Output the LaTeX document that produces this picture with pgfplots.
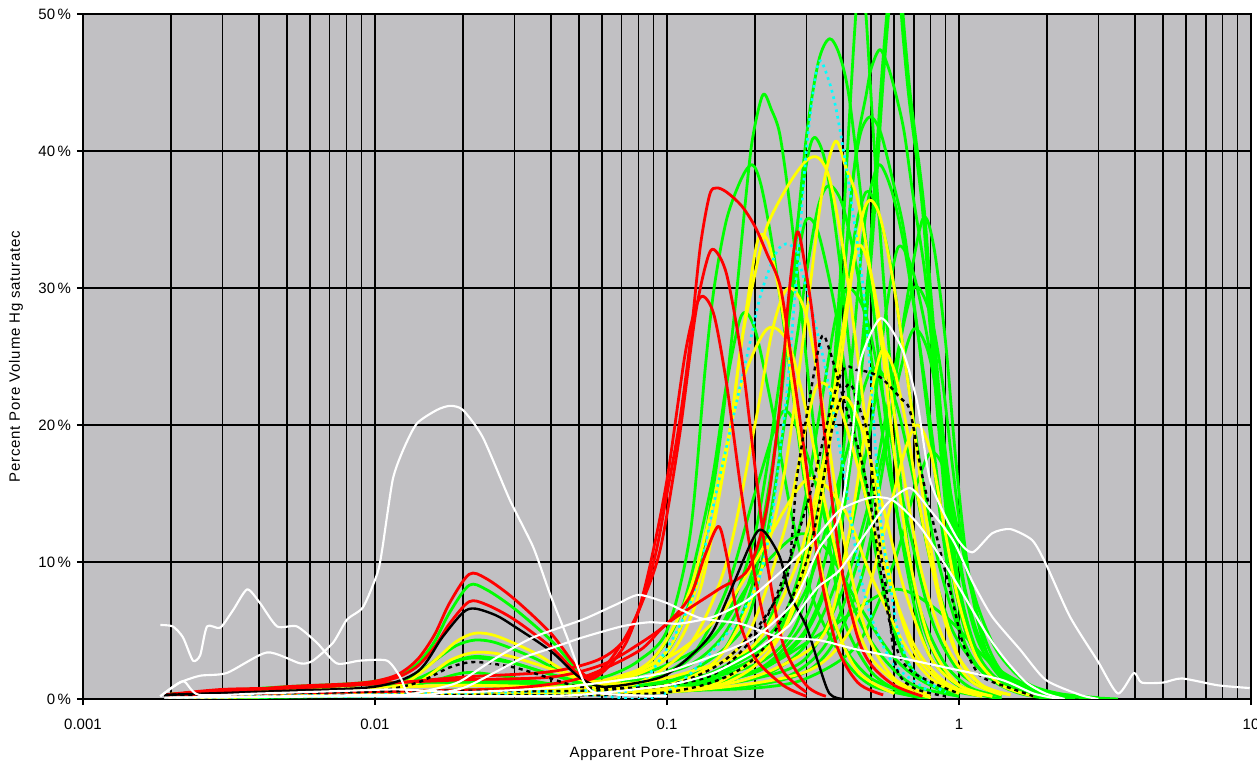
\documentclass[border=0pt]{standalone}
\usepackage{fontspec}
\setmainfont{Liberation Sans}
\usepackage{pgfplots}
\pgfplotsset{compat=1.18}
\usetikzlibrary{calc}
\definecolor{xgreen}{RGB}{0,255,0}
\definecolor{xyellow}{RGB}{255,255,0}
\definecolor{xred}{RGB}{255,0,0}
\definecolor{xcyan}{RGB}{0,255,255}
\definecolor{plotbg}{RGB}{193,192,195}
\pgfplotsset{
  gr/.style={draw=xgreen, line width=2.1pt},
  ye/.style={draw=xyellow, line width=2.1pt},
  rd/.style={draw=xred, line width=2.1pt},
  cy/.style={draw=xcyan, line width=2pt, dash pattern=on 2pt off 3pt},
  bk/.style={draw=black, line width=1.8pt},
  bkd/.style={draw=black, line width=1.8pt, dash pattern=on 3pt off 3pt},
  wh/.style={draw=white, line width=1.6pt, tension=0.4},
}
\begin{document}
\begin{tikzpicture}[font=\fontsize{11.25}{13}\selectfont]
\begin{axis}[
  name=ax,
  scale only axis,
  width=876pt, height=513.75pt,
  xmode=log,
  xmin=0.001, xmax=10,
  ymin=0, ymax=50,
  axis background/.style={fill=plotbg},
  xtick={0.001,0.01,0.1,1,10},
  xticklabels={0.001,0.01,0.1,1,10},
  ytick={0,10,20,30,40,50},
  yticklabels={0\,\%,10\,\%,20\,\%,30\,\%,40\,\%,50\,\%},
  xticklabel style={yshift=-7pt},
  yticklabel style={xshift=-1pt},
  grid=both,
  major grid style={black, line width=1.1pt},
  minor grid style={black, line width=1.1pt},
  axis line style={black, line width=1.1pt},
  tick align=outside,
  xtick pos=bottom, ytick pos=left,
  major tick length=4.5pt, minor tick length=0pt,
  tick style={black, line width=1pt},
  xlabel={\addfontfeatures{LetterSpace=5}Apparent Pore-Throat Size},
  ylabel={\addfontfeatures{LetterSpace=5}Percent Pore Volume Hg saturatec},
  xlabel style={at={(axis description cs:0.5,0)}, anchor=center, yshift=-41.25pt},
  ylabel style={at={(axis description cs:0,0.5)}, anchor=center, yshift=50.25pt},
  every axis plot/.append style={smooth, tension=0.5, no markers, line join=round},
]
% ---------------- green ----------------
\addplot[gr] coordinates {(0.0019,0.2)(0.004,0.4)(0.008,0.5)(0.015,0.6)(0.03,0.8)(0.06,1.2)(0.09,2.5)(0.11,5)(0.13,10)(0.15,18)(0.17,28)(0.185,36)(0.196,40.8)(0.213,44.1)(0.228,43)(0.243,41.3)(0.26,37)(0.28,31)(0.31,22)(0.35,13)(0.4,6)(0.5,2)(0.65,0.4)(0.8,0)};
\addplot[gr] coordinates {(0.0019,0.2)(0.005,0.5)(0.01,0.8)(0.014,1.5)(0.018,2.6)(0.022,3)(0.03,2.6)(0.04,1.8)(0.055,1.2)(0.08,1.5)(0.12,2.5)(0.16,5)(0.2,10)(0.24,20)(0.27,31)(0.3,41)(0.33,46.5)(0.36,48.2)(0.39,47)(0.42,44)(0.46,37)(0.5,30)(0.55,22)(0.6,15)(0.7,7)(0.8,3)(1,1)(1.3,0.2)};
\addplot[gr] coordinates {(0.0019,0.1)(0.005,0.2)(0.01,0.3)(0.02,0.4)(0.05,0.6)(0.1,1)(0.15,2)(0.25,6)(0.33,15)(0.38,25)(0.42,35)(0.45,40.8)(0.48,44)(0.5,46)(0.536,47.4)(0.575,46)(0.615,43.7)(0.65,41.3)(0.7,36.4)(0.76,31.5)(0.8,26.7)(0.85,20)(0.92,12)(1,7)(1.1,4)(1.3,1.8)(1.6,0.5)(2.2,0.1)};
\addplot[gr] coordinates {(0.0019,0.3)(0.003,0.6)(0.005,0.8)(0.008,1)(0.012,1.2)(0.02,1.5)(0.05,1)(0.1,1)(0.2,2.5)(0.27,5)(0.32,10)(0.36,20)(0.39,30)(0.415,40)(0.44,49)(0.46,54)(0.48,50)(0.51,41)(0.55,31)(0.6,21)(0.66,12)(0.75,5.5)(0.9,1.8)(1.1,0.5)(1.4,0)};
\addplot[gr, line width=3.4pt] coordinates {(0.0019,0.1)(0.005,0.2)(0.01,0.3)(0.02,0.4)(0.05,0.5)(0.1,1)(0.2,2)(0.3,5)(0.38,11)(0.45,22)(0.5,33)(0.55,46)(0.59,53)(0.62,53)(0.65,48)(0.68,43.7)(0.75,36.4)(0.8,29)(0.86,21)(0.92,14)(1,8)(1.12,4)(1.3,1.5)(1.6,0.5)(2,0.1)};
\addplot[gr] coordinates {(0.0019,0.2)(0.004,0.4)(0.008,0.5)(0.015,0.6)(0.03,0.7)(0.08,1)(0.15,2)(0.25,5)(0.3,10)(0.35,19)(0.4,30)(0.43,37.4)(0.46,41.3)(0.497,42.5)(0.54,41.3)(0.6,37.4)(0.65,34)(0.72,27)(0.8,19)(0.88,12)(0.96,7)(1.1,3)(1.4,1)(2,0.2)};
\addplot[gr] coordinates {(0.0019,0.3)(0.003,0.6)(0.005,0.9)(0.008,1.1)(0.01,1.3)(0.012,1.7)(0.014,2.6)(0.016,4.2)(0.018,6.3)(0.021,8.3)(0.024,8)(0.03,6.6)(0.04,4.3)(0.048,2.4)(0.055,1.5)(0.065,1.8)(0.08,2.8)(0.1,5)(0.12,12)(0.135,24)(0.145,30)(0.16,35)(0.18,38)(0.196,39)(0.21,37.5)(0.23,33)(0.26,25)(0.3,15)(0.35,8)(0.4,4)(0.5,1.5)(0.7,0.3)};
\addplot[gr] coordinates {(0.0019,0.3)(0.003,0.6)(0.005,0.8)(0.008,1)(0.012,1.2)(0.02,1.3)(0.05,1)(0.1,1.2)(0.18,5)(0.22,12)(0.26,22)(0.3,31)(0.33,36)(0.36,37.5)(0.4,36)(0.45,31)(0.5,25)(0.56,18)(0.65,11)(0.75,6)(0.9,2.5)(1.1,0.8)(1.4,0.2)};
\addplot[gr] coordinates {(0.0019,0.1)(0.005,0.2)(0.01,0.3)(0.02,0.4)(0.05,0.5)(0.1,0.8)(0.2,2)(0.3,6)(0.38,14)(0.43,25)(0.47,34)(0.5,37.4)(0.536,39)(0.59,37)(0.65,33)(0.72,27)(0.8,20)(0.88,13)(0.95,9)(1.05,5)(1.2,2.5)(1.5,0.8)(2,0.2)};
\addplot[gr] coordinates {(0.0019,0.2)(0.004,0.4)(0.008,0.5)(0.015,0.6)(0.05,0.7)(0.1,1)(0.2,3)(0.28,8)(0.35,18)(0.4,27)(0.44,34)(0.48,37)(0.52,36)(0.58,32)(0.65,25)(0.75,16)(0.85,10)(1,5)(1.2,2)(1.6,0.5)(2.5,0.1)};
\addplot[gr] coordinates {(0.0019,0.2)(0.005,0.5)(0.01,0.8)(0.013,1.4)(0.016,2.8)(0.019,3.9)(0.022,4.3)(0.026,4.1)(0.035,3)(0.045,1.8)(0.055,1.2)(0.07,1.5)(0.1,2.5)(0.15,5)(0.2,12)(0.25,25)(0.28,32)(0.3,35)(0.33,34)(0.38,28)(0.45,18)(0.55,8)(0.65,3)(0.8,1)(1,0.2)};
\addplot[gr] coordinates {(0.0019,0.2)(0.004,0.4)(0.008,0.5)(0.015,0.6)(0.05,0.6)(0.1,0.8)(0.2,1.5)(0.3,4)(0.4,10)(0.5,20)(0.56,28)(0.62,33)(0.7,31)(0.8,25)(0.9,17)(1,10)(1.15,4.5)(1.4,1.5)(1.8,0.4)(2.5,0)};
\addplot[gr] coordinates {(0.0019,0.3)(0.003,0.6)(0.005,0.8)(0.008,1)(0.012,1.2)(0.02,1.2)(0.05,0.9)(0.1,0.8)(0.2,4)(0.28,12)(0.34,22)(0.38,28)(0.42,30)(0.48,28)(0.55,22)(0.65,14)(0.8,6)(1,2)(1.3,0.5)};
\addplot[gr] coordinates {(0.0019,0.1)(0.005,0.2)(0.01,0.3)(0.02,0.4)(0.05,0.4)(0.15,0.8)(0.25,1.5)(0.35,4)(0.45,10)(0.55,18)(0.63,24)(0.7,27)(0.78,25.5)(0.86,21)(0.95,14)(1.05,8)(1.2,4)(1.5,1.3)(2,0.4)(3,0)};
\addplot[gr] coordinates {(0.0019,0.1)(0.005,0.3)(0.01,0.5)(0.015,1.2)(0.02,1.9)(0.025,1.8)(0.035,1.3)(0.05,0.8)(0.08,0.8)(0.12,1.5)(0.2,3)(0.3,8)(0.4,17)(0.5,24)(0.6,22)(0.7,16)(0.8,10)(0.95,5)(1.2,2)(1.6,0.5)(2.2,0)};
\addplot[gr] coordinates {(0.0019,0.2)(0.005,0.4)(0.01,0.6)(0.014,1.3)(0.018,2.6)(0.022,3.1)(0.028,2.8)(0.04,1.8)(0.055,1)(0.08,1.3)(0.12,3)(0.16,8)(0.2,15)(0.25,21)(0.3,18)(0.36,12)(0.45,6)(0.55,3)(0.7,1)(1,0.2)};
\addplot[gr] coordinates {(0.0019,0.2)(0.004,0.4)(0.008,0.5)(0.015,0.6)(0.05,0.5)(0.1,0.6)(0.2,0.8)(0.3,1.5)(0.45,4)(0.6,10)(0.7,15)(0.8,18)(0.9,16.5)(1,12)(1.15,7)(1.35,3.5)(1.7,1.2)(2.2,0.4)(3,0.1)};
\addplot[gr] coordinates {(0.0019,0.3)(0.003,0.6)(0.005,0.8)(0.008,1)(0.012,1.2)(0.02,1.3)(0.05,1)(0.1,0.8)(0.2,1.5)(0.3,3)(0.4,8)(0.5,15)(0.6,24)(0.7,30)(0.8,28)(0.88,23)(0.95,17)(1.05,10)(1.2,5)(1.4,2)(1.8,0.6)(2.5,0.1)};
\addplot[gr] coordinates {(0.0019,0.1)(0.005,0.2)(0.01,0.3)(0.02,0.4)(0.05,0.5)(0.1,2)(0.15,5)(0.2,9)(0.28,12)(0.35,11)(0.45,7)(0.6,3)(0.8,1)(1.2,0.2)};
\addplot[gr] coordinates {(0.0019,0.2)(0.004,0.4)(0.008,0.5)(0.015,0.6)(0.05,0.5)(0.1,0.8)(0.2,2)(0.35,5)(0.6,8)(0.9,6)(1.3,2.5)(1.8,0.8)(2.5,0.2)(3.5,0)};
\addplot[gr] coordinates {(0.0019,0.1)(0.005,0.2)(0.01,0.3)(0.02,0.4)(0.1,0.5)(0.3,2)(0.45,8)(0.55,17)(0.65,28)(0.75,35)(0.82,33)(0.9,26)(0.97,18)(1.05,11)(1.15,6)(1.3,2.5)(1.6,0.8)(2.2,0.1)};
\addplot[gr] coordinates {(0.0019,0.2)(0.004,0.4)(0.008,0.5)(0.015,0.6)(0.05,0.8)(0.08,2)(0.11,6)(0.14,15)(0.16,23)(0.18,28)(0.2,27)(0.23,21)(0.27,13)(0.32,7)(0.4,3)(0.5,1)(0.7,0.2)};
\addplot[gr] coordinates {(0.0019,0.3)(0.003,0.6)(0.005,0.8)(0.008,1)(0.012,1.2)(0.02,1.2)(0.05,1)(0.1,1.3)(0.15,3)(0.2,9)(0.24,20)(0.27,32)(0.3,39)(0.32,41)(0.35,39)(0.39,32)(0.44,22)(0.5,13)(0.58,6)(0.7,2)(0.9,0.5)};
% ---------------- yellow ----------------
\addplot[ye] coordinates {(0.0019,0.2)(0.004,0.4)(0.008,0.5)(0.015,0.6)(0.05,0.6)(0.1,1)(0.15,3)(0.2,8)(0.25,16)(0.3,28)(0.34,37)(0.377,40.7)(0.41,38.8)(0.45,36.4)(0.5,31)(0.55,25)(0.6,18)(0.68,10)(0.8,4)(1,1)(1.3,0.2)};
\addplot[ye] coordinates {(0.0019,0.1)(0.005,0.2)(0.01,0.3)(0.02,0.4)(0.04,0.6)(0.06,1)(0.1,3)(0.13,8)(0.16,18)(0.18,26)(0.2,31)(0.22,34.5)(0.26,37.5)(0.3,39.3)(0.33,39.5)(0.36,38)(0.4,33)(0.45,25)(0.5,17)(0.58,9)(0.7,3.5)(0.9,1)(1.2,0.2)};
\addplot[ye] coordinates {(0.0019,0.3)(0.003,0.5)(0.005,0.6)(0.01,0.8)(0.02,1)(0.05,0.8)(0.1,0.8)(0.15,1.2)(0.25,5)(0.32,12)(0.38,22)(0.43,31)(0.47,35.5)(0.5,36.4)(0.54,35)(0.6,30)(0.68,22)(0.75,15)(0.85,8)(1,3)(1.2,1)(1.5,0.3)};
\addplot[ye] coordinates {(0.0019,0.2)(0.005,0.4)(0.01,0.7)(0.013,1.3)(0.016,2.8)(0.019,4.2)(0.022,4.8)(0.026,4.6)(0.035,3.4)(0.045,2)(0.055,1.3)(0.07,1.5)(0.1,3.5)(0.13,9)(0.16,18)(0.18,26)(0.2,32.5)(0.21,33.9)(0.225,33)(0.25,28)(0.28,20)(0.32,12)(0.37,6)(0.45,2)(0.6,0.4)};
\addplot[ye] coordinates {(0.0019,0.2)(0.004,0.4)(0.008,0.5)(0.015,0.6)(0.05,0.7)(0.08,1.2)(0.12,4)(0.16,10)(0.2,20)(0.23,27)(0.26,30)(0.3,28)(0.35,20)(0.4,12)(0.48,5)(0.6,1.5)(0.8,0.3)};
\addplot[ye] coordinates {(0.0019,0.1)(0.005,0.2)(0.01,0.3)(0.02,0.3)(0.05,0.3)(0.15,1)(0.25,2.5)(0.35,5)(0.42,12)(0.48,20)(0.52,24)(0.55,25.5)(0.6,24)(0.66,20)(0.72,15)(0.8,10)(0.9,5.5)(1,3)(1.2,1)(1.5,0.3)};
\addplot[ye] coordinates {(0.0019,0.1)(0.005,0.3)(0.01,0.5)(0.014,1.2)(0.018,2.8)(0.022,3.4)(0.028,3.2)(0.04,2.2)(0.055,1.2)(0.08,1.2)(0.12,2)(0.2,4)(0.28,10)(0.35,18)(0.4,22)(0.46,20)(0.55,14)(0.65,8)(0.8,3)(1,1)(1.3,0.2)};
\addplot[ye] coordinates {(0.0019,0.3)(0.003,0.5)(0.005,0.6)(0.01,0.8)(0.02,1)(0.04,0.9)(0.06,1)(0.09,3)(0.12,8)(0.15,16)(0.18,23)(0.22,27)(0.26,26)(0.3,21)(0.35,14)(0.42,7)(0.5,3)(0.65,0.8)(0.8,0.1)};
\addplot[ye] coordinates {(0.0019,0.2)(0.004,0.3)(0.008,0.4)(0.015,0.5)(0.05,1)(0.1,3)(0.15,6)(0.2,10)(0.3,16)(0.4,14)(0.5,9)(0.65,4)(0.8,1.5)(1,0.4)};
\addplot[ye] coordinates {(0.0019,0.1)(0.005,0.2)(0.01,0.3)(0.02,0.3)(0.05,0.4)(0.15,1)(0.25,5)(0.33,15)(0.4,27)(0.45,33)(0.5,31)(0.57,24)(0.65,16)(0.75,9)(0.9,4)(1.1,1.3)(1.4,0.3)};
\addplot[ye] coordinates {(0.0019,0.2)(0.004,0.3)(0.008,0.4)(0.015,0.5)(0.05,0.6)(0.1,1)(0.18,4)(0.25,12)(0.3,20)(0.33,23)(0.38,22)(0.45,17)(0.55,10)(0.7,4)(0.9,1.2)(1.2,0.2)};
\addplot[ye] coordinates {(0.0019,0.1)(0.005,0.2)(0.01,0.3)(0.02,0.3)(0.1,0.5)(0.3,2)(0.45,6)(0.55,12)(0.65,18)(0.72,20)(0.8,18)(0.9,12)(1,7)(1.15,3)(1.4,1)(1.8,0.2)};
% ---------------- cyan dotted ----------------
\addplot[cy] coordinates {(0.0019,0.1)(0.01,0.2)(0.05,0.3)(0.1,0.5)(0.2,8)(0.25,20)(0.28,32)(0.3,40)(0.32,45)(0.335,46.6)(0.36,45)(0.38,43)(0.41,39)(0.43,36)(0.47,30)(0.5,23)(0.54,13)(0.58,8.5)(0.62,4.8)(0.7,2)(0.9,0.5)};
\addplot[cy] coordinates {(0.0019,0.2)(0.01,0.4)(0.05,0.6)(0.08,1)(0.12,7)(0.15,15.8)(0.19,25.5)(0.21,29.6)(0.24,32.8)(0.27,33)(0.3,30)(0.35,24)(0.4,17)(0.45,10)(0.5,6)(0.6,2.5)(0.8,0.5)};
% ---------------- red ----------------
\addplot[rd] coordinates {(0.0019,0.3)(0.003,0.6)(0.005,0.8)(0.008,1)(0.012,1.2)(0.02,1.6)(0.04,2)(0.06,3)(0.075,5)(0.09,10)(0.1,15)(0.11,20)(0.12,26)(0.13,33)(0.14,36.8)(0.148,37.3)(0.16,37)(0.18,36)(0.2,34.5)(0.22,32.5)(0.245,30)(0.27,24)(0.3,17)(0.33,10)(0.38,4)(0.45,1.2)(0.55,0.3)};
\addplot[rd] coordinates {(0.0019,0.2)(0.003,0.5)(0.005,0.9)(0.008,1.1)(0.01,1.3)(0.012,1.8)(0.014,2.9)(0.016,4.7)(0.018,7)(0.021,9.1)(0.024,8.8)(0.03,7.3)(0.04,4.8)(0.048,2.6)(0.054,1.6)(0.062,2.5)(0.072,4.5)(0.082,7)(0.095,11)(0.11,19)(0.125,28)(0.137,32)(0.145,32.8)(0.16,31)(0.18,25)(0.2,17)(0.22,10)(0.25,4)(0.3,1)(0.35,0.2)};
\addplot[rd] coordinates {(0.0019,0.3)(0.003,0.7)(0.005,0.8)(0.008,1)(0.01,1.2)(0.012,1.6)(0.014,2.4)(0.016,3.8)(0.018,5.5)(0.021,7.1)(0.024,6.9)(0.03,5.8)(0.04,3.8)(0.048,2.1)(0.054,1.4)(0.062,2.2)(0.072,4)(0.08,6.5)(0.088,10)(0.1,16)(0.115,25)(0.125,28.5)(0.133,29.4)(0.145,28)(0.16,23)(0.18,15)(0.2,9)(0.22,5)(0.25,2)(0.3,0.5)};
\addplot[rd] coordinates {(0.0019,0.2)(0.004,0.4)(0.008,0.5)(0.015,0.6)(0.03,0.8)(0.05,1.5)(0.08,3.5)(0.1,5.5)(0.15,8)(0.19,9.5)(0.22,14)(0.245,22)(0.26,29)(0.275,33.5)(0.283,34)(0.295,32)(0.315,28)(0.34,21)(0.37,14)(0.4,9)(0.45,4.5)(0.5,2.5)(0.6,1)(0.75,0.2)};
\addplot[rd] coordinates {(0.0019,0.3)(0.003,0.6)(0.005,0.8)(0.008,1)(0.012,1.2)(0.02,1.4)(0.04,1.6)(0.06,2.5)(0.08,4)(0.1,5.5)(0.12,7.5)(0.135,10.5)(0.15,12.6)(0.16,10.5)(0.175,6)(0.2,3)(0.25,1)(0.3,0.2)};
% ---------------- black ----------------
\addplot[bk] coordinates {(0.0019,0.3)(0.005,0.6)(0.01,0.9)(0.014,2)(0.017,4.5)(0.02,6.3)(0.022,6.6)(0.026,6.1)(0.03,5.3)(0.04,3.5)(0.05,1.6)(0.06,0.9)(0.08,1.2)(0.1,1.8)(0.127,3.6)(0.144,5)(0.16,7.2)(0.196,11.6)(0.213,12.3)(0.243,10.4)(0.263,7.7)(0.3,5.3)(0.33,2.6)(0.36,0.4)(0.4,0)};
\addplot[bkd] coordinates {(0.0019,0.3)(0.005,0.5)(0.01,0.6)(0.014,1.2)(0.018,2.3)(0.022,2.7)(0.03,2.3)(0.04,1.5)(0.05,0.9)(0.07,0.8)(0.1,1)(0.15,2)(0.22,6)(0.3,14)(0.39,23.5)(0.45,24)(0.536,23.5)(0.628,22)(0.68,21)(0.75,16.2)(0.86,10.9)(0.95,7.2)(1.03,4.1)(1.15,2)(1.25,1.4)(1.45,0.9)(1.8,0.2)};
\addplot[bkd] coordinates {(0.0019,0.2)(0.004,0.4)(0.008,0.5)(0.015,0.6)(0.05,0.6)(0.1,1)(0.15,2.5)(0.2,5)(0.24,7.5)(0.26,9.2)(0.27,12.6)(0.28,16.5)(0.32,24)(0.34,26.5)(0.36,25.5)(0.41,21.3)(0.46,17.7)(0.5,14)(0.54,9.2)(0.58,5.5)(0.63,3)(0.7,1.9)(0.85,1)(1,0.4)};
\addplot[bkd] coordinates {(0.0019,0.1)(0.005,0.2)(0.01,0.3)(0.02,0.3)(0.1,0.5)(0.2,3)(0.3,10)(0.37,20)(0.42,23)(0.46,21)(0.49,18.9)(0.53,12)(0.57,7.2)(0.61,2.3)(0.7,0.8)(0.9,0.2)};
% ---------------- white ----------------
\addplot[wh] coordinates {(0.00184,5.4)(0.00203,5.3)(0.0022,4.5)(0.00238,2.8)(0.00252,3.2)(0.00266,5.3)(0.00295,5.2)(0.00327,6.5)(0.00365,8)(0.00404,7)(0.00462,5.3)(0.0054,5.3)(0.00633,4.1)(0.0074,2.6)(0.00889,2.8)(0.011,2.8)(0.0122,1.6)(0.013,0.4)(0.015,0.6)(0.018,1)(0.02,1.4)(0.026,3)(0.0348,4.5)(0.0515,5.8)(0.067,6.9)(0.08,7.6)(0.1,7)(0.13,5.9)(0.178,5.5)(0.243,4.5)(0.33,4.3)(0.45,3.6)(0.63,3)(0.9,2.3)(1.4,1.4)(1.8,0.4)(2.2,0)};
\addplot[wh] coordinates {(0.00184,0.2)(0.00215,1.2)(0.00252,1.7)(0.00311,1.9)(0.00427,3.4)(0.00554,2.6)(0.00613,2.8)(0.00718,4.1)(0.00802,5.8)(0.0091,6.7)(0.0102,9.2)(0.0106,11)(0.0115,16)(0.0125,18.2)(0.0139,20.1)(0.0163,21.1)(0.0181,21.4)(0.02,21.1)(0.0234,19.1)(0.029,14.5)(0.0348,11.1)(0.0397,7.7)(0.0455,4.5)(0.0515,1.4)(0.056,0.5)(0.07,0.3)(0.1,0.2)};
\addplot[wh] coordinates {(0.00184,0.2)(0.0022,1.3)(0.0025,0.3)(0.004,0.4)(0.008,0.6)(0.012,0.7)(0.02,0.5)(0.04,0.8)(0.06,1.2)(0.097,1.9)(0.15,3.3)(0.2,4.5)(0.27,7)(0.33,10.9)(0.39,13.3)(0.43,19)(0.46,24.7)(0.54,27.8)(0.64,25.5)(0.72,21.6)(0.8,15.8)(0.98,11.8)(1.11,10.7)(1.3,12.1)(1.5,12.4)(1.78,11.6)(1.98,9.9)(2.4,6)(2.98,2.8)(3.5,0.4)(3.97,1.9)(4.22,1.2)(5,1.2)(5.8,1.5)(7.7,1)(9.9,0.8)};
\addplot[wh] coordinates {(0.0019,0.1)(0.005,0.2)(0.01,0.3)(0.015,0.3)(0.02,0.8)(0.025,1.8)(0.032,3)(0.04,3.7)(0.0515,4.5)(0.07,5.3)(0.087,5.6)(0.11,5.5)(0.144,6)(0.188,7.2)(0.243,9.2)(0.318,11.6)(0.392,13.8)(0.497,14.7)(0.594,14.5)(0.735,12.6)(0.953,8.9)(1.24,4.8)(1.45,2.8)(1.7,1.2)(1.98,0.4)(2.3,0)};
\addplot[wh] coordinates {(0.0019,0.1)(0.01,0.2)(0.03,0.2)(0.05,0.3)(0.1,1)(0.144,1.9)(0.2,3.5)(0.26,5.3)(0.29,6.7)(0.33,8.2)(0.39,9.4)(0.48,12.1)(0.57,14.3)(0.68,15.4)(0.796,13.8)(0.953,11.6)(1.116,8.5)(1.3,6)(1.62,3.6)(1.98,1.4)(2.6,0.3)(3,0)};
\end{axis}
\pgfresetboundingbox
\path ($(ax.south west)+(-62.25pt,-51pt)$) rectangle ($(ax.north east)+(4.5pt,10.5pt)$);
\end{tikzpicture}
\end{document}
